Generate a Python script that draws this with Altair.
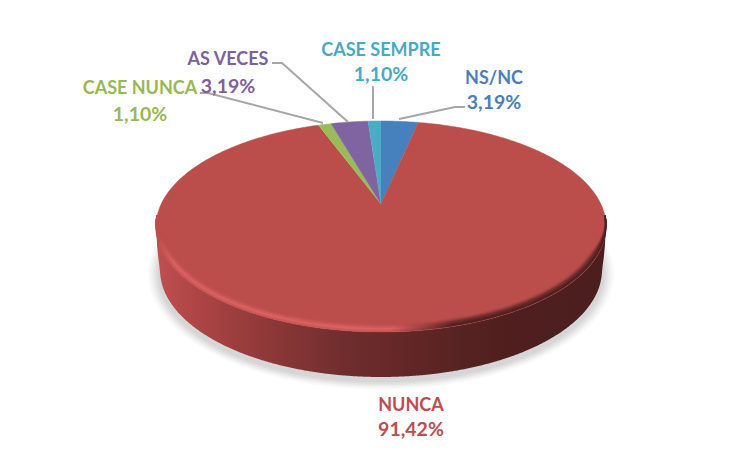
import numpy as np
import pandas as pd
import altair as alt

# --- chart values ---
categories = ["NS/NC", "NUNCA", "CASE NUNCA", "AS VECES", "CASE SEMPRE"]
shares = [3.19, 91.42, 1.10, 3.19, 1.10]
share_labels = ["3,19%", "91,42%", "1,10%", "3,19%", "1,10%"]

# --- styling / layout ---
slice_colors = ["#4781BD", "#BB4D4A", "#9BBB59", "#8064A2", "#4BACC6"]
text_colors = ["#4A7EBB", "#BE4B50", "#98B855", "#7D60A0", "#46AAC5"]
label_centres = [(494, 78.5, 102.5), (411, 405.5, 429.5), (140, 88.5, 114.5), (228, 59.5, 86.5), (381, 50.5, 74.5)]
leader_paths = [
    [(399, 119), (455, 107), (465, 107)],
    None,
    [(200, 93), (208, 93), (323, 123)],
    [(272, 63), (282, 63), (348, 122)],
    [(373, 119), (373, 86)],
]

W, H = 734, 434
CX, CY, RX, RY = 381.0, 226.5, 225.0, 105.5
TIP_Y = 204.0
BOT_CY, BOT_RX, BOT_RY = 270.0, 221.0, 107.0


def U(px):
    return (np.asarray(px, dtype=float) - CX) / RX


def V(py):
    return (CY - np.asarray(py, dtype=float)) / RY


xs = alt.Scale(domain=[float(U(8)), float(U(8 + W))], range=[0, W], nice=False, zero=False)
ys = alt.Scale(domain=[float(V(8 + H)), float(V(8))], range=[H, 0], nice=False, zero=False)
X = alt.X("u:Q", scale=xs, axis=None)
Y = alt.Y("v:Q", scale=ys, axis=None)
Y2 = alt.Y2("v2:Q")


def rim_point(theta):
    """Point of the top ellipse hit by the slice edge at angle theta (clockwise from 12 o'clock)."""
    v0 = float(V(TIP_Y))
    du, dv = np.sin(theta), np.cos(theta) * 100.0 / RY
    a, b, c = du * du + dv * dv, 2 * v0 * dv, v0 * v0 - 1
    r = (-b + np.sqrt(b * b - 4 * a * c)) / (2 * a)
    return du * r, v0 + dv * r


def polygon(points, color, **kw):
    df = pd.DataFrame(points, columns=["u", "v"]).assign(i=lambda d: d.index)
    return alt.Chart(df).mark_line(fill=color, stroke=color, strokeWidth=0.5, interpolate="linear", **kw).encode(
        x=X, y=Y, order="i:Q"
    )


# shadow
shadow_layers = []
t = np.linspace(0, 2 * np.pi, 240)
for grow, op in [(12, 0.04), (10, 0.05), (8, 0.06), (6, 0.07), (4, 0.07), (2, 0.07)]:
    pts = list(zip(U(CX + (BOT_RX + grow) * np.cos(t)), V(BOT_CY + 4 + (BOT_RY + grow * 0.7) * np.sin(t))))
    df = pd.DataFrame(pts, columns=["u", "v"]).assign(i=lambda d: d.index)
    shadow_layers.append(
        alt.Chart(df).mark_line(fill="#808080", fillOpacity=op, strokeOpacity=0, stroke="#808080").encode(x=X, y=Y, order="i:Q")
    )

# wall
wall_x = np.linspace(CX - RX, CX + RX, 400)
off = np.abs(wall_x - CX)
top_edge = CY + RY * np.sqrt(np.clip(1 - (off / RX) ** 2, 0, 1))
bot_edge = BOT_CY + BOT_RY * np.sqrt(np.clip(1 - (off / BOT_RX) ** 2, 0, 1))
ramp = np.clip((RX - off) / (RX - BOT_RX), 0, 1)
bot_edge = np.where(off > BOT_RX, top_edge + (BOT_CY - top_edge) * ramp, bot_edge)
wall_df = pd.DataFrame({"u": U(wall_x), "v": V(top_edge), "v2": V(bot_edge)})
wall = alt.Chart(wall_df).mark_area(
    color=alt.Gradient(
        gradient="linear", x1=0, x2=1, y1=0, y2=0,
        stops=[
            alt.GradientStop(offset=0.0, color="#C04F50"),
            alt.GradientStop(offset=0.08, color="#B04646"),
            alt.GradientStop(offset=0.25, color="#8E3838"),
            alt.GradientStop(offset=0.42, color="#702D2D"),
            alt.GradientStop(offset=0.60, color="#5E2625"),
            alt.GradientStop(offset=0.78, color="#4E1F1E"),
            alt.GradientStop(offset=1.0, color="#4C1E1D"),
        ],
    )
).encode(x=X, y=Y, y2=Y2)

# top surface
slices = []
edges = np.cumsum([0] + shares) / sum(shares) * 2 * np.pi
tip = (0.0, float(V(TIP_Y)))
for k, color in enumerate(slice_colors):
    n = max(6, int(shares[k] * 5))
    arc = [rim_point(a) for a in np.linspace(edges[k], edges[k + 1], n)]
    slices.append(polygon([tip] + arc, color))

# bevel band along the rim: curves inset by a fixed distance that fades out at both ends
bevel = []
band_t = np.linspace(np.radians(-6), np.radians(186), 400)
fade = np.clip((np.sin(band_t) + 0.105) / 0.45, 0, 1)
fade = fade * fade * (3 - 2 * fade)
levels = [
    (8.0, "#BD4E4C", "#B04846", 0.7),
    (7.0, "#C15150", "#A04140", 0.8),
    (6.0, "#C75553", "#8C3836", 0.9),
    (5.0, "#CE5957", "#782F2E", 1.0),
    (4.0, "#D65E5D", "#682929", 1.0),
    (3.0, "#DC6362", "#5A2423", 1.0),
    (2.0, "#D96060", "#502020", 1.0),
    (1.0, "#CC5857", "#4D1E1E", 1.0),
]
for d, light, dark, op in levels:
    dd = d * fade
    df = pd.DataFrame({
        "u": U(CX + (RX - dd) * np.cos(band_t)),
        "v": V(CY + (RY - dd) * np.sin(band_t)),
    }).assign(i=lambda f: f.index)
    bevel.append(
        alt.Chart(df).mark_line(
            strokeWidth=1.6, opacity=op * 0.9,
            stroke=alt.Gradient(
                gradient="linear", x1=0, x2=1, y1=0, y2=0,
                stops=[
                    alt.GradientStop(offset=0.0, color="#BB4D4A"),
                    alt.GradientStop(offset=0.04, color=light),
                    alt.GradientStop(offset=0.52, color=light),
                    alt.GradientStop(offset=0.66, color=dark),
                    alt.GradientStop(offset=1.0, color=dark),
                ],
            ),
        ).encode(x=X, y=Y, order="i:Q")
    )

# leader lines
leaders = []
for path in leader_paths:
    if path is None:
        continue
    p = np.array(path, dtype=float)
    df = pd.DataFrame({"u": U(p[:, 0]), "v": V(p[:, 1]), "i": range(len(p))})
    leaders.append(alt.Chart(df).mark_line(color="#A6A6A6", strokeWidth=2).encode(x=X, y=Y, order="i:Q"))

# labels
texts = []
for name, share, color, (cx, y1, y2) in zip(categories, share_labels, text_colors, label_centres):
    for s, yy, fs in [(name, y1, 18), (share, y2, 19.5)]:
        df = pd.DataFrame({"u": U([cx]), "v": V([yy]), "t": [s]})
        texts.append(
            alt.Chart(df).mark_text(font="Lato", fontWeight="bold", fontSize=fs, color=color, align="center", baseline="middle").encode(
                x=X, y=Y, text="t:N"
            )
        )

chart = alt.layer(*shadow_layers, wall, *slices, *bevel, *leaders, *texts).properties(
    width=W, height=H, padding=0, autosize=alt.AutoSizeParams(type="none"), background="white"
).configure_view(stroke=None)

chart.save("out.html", embed_options={"renderer": "svg", "actions": False})
